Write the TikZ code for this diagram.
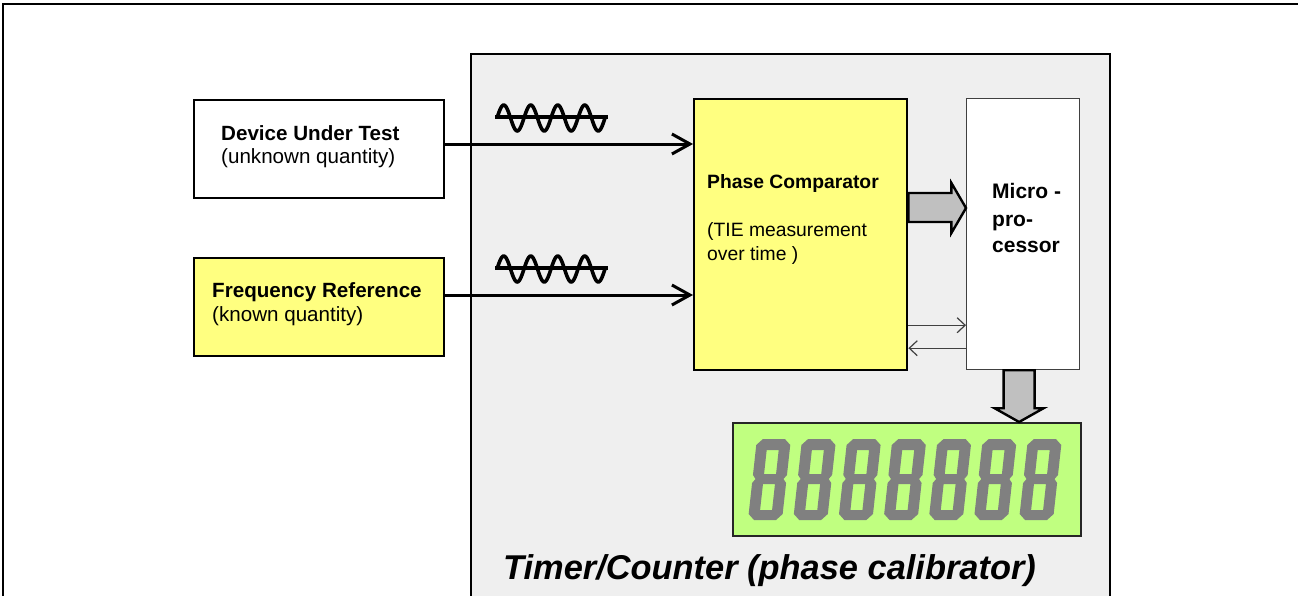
\documentclass[tikz,border=0pt]{standalone}
\usepackage{fontspec}
\setmainfont{Liberation Sans}
\usetikzlibrary{arrows.meta,calc}

\definecolor{panelgray}{HTML}{EFEFEF}
\definecolor{compyellow}{HTML}{FFFF80}
\definecolor{lcdgreen}{HTML}{C0FF80}
\definecolor{blockgray}{HTML}{C0C0C0}
\definecolor{seggray}{HTML}{808080}
\definecolor{wiregray}{HTML}{404040}

\tikzset{
  blockbox/.style={draw=black, line width=2pt, inner sep=0pt, anchor=north west},
  label/.style={inner sep=0pt, anchor=base west},
  boxtext/.style={label, font=\fontsize{20.6}{24}\selectfont},
  boxtitle/.style={boxtext, font=\bfseries\fontsize{20.6}{24}\selectfont},
  pctext/.style={label, font=\fontsize{19.3}{24}\selectfont},
  pctitle/.style={label, font=\bfseries\fontsize{19.3}{24}\selectfont},
  mptext/.style={label, font=\bfseries\fontsize{21}{27}\selectfont},
  signal/.style={line width=3pt, -{Straight Barb[length=18pt,width=20pt,line width=3pt]}},
  ctrl/.style={draw=wiregray, line width=1.2pt, -{Straight Barb[length=8pt,width=15pt,line width=1.2pt]}},
  blockarrow/.style={draw=black, fill=blockgray, line width=2.4pt, line join=miter},
  wave/.style={line width=3.6pt, line join=round},
}

\newcommand{\segdigit}{%
  \fill[seggray, even odd rule]
    (6,0) -- (28,0) -- (34,6) -- (34,37) -- (31,41) -- (34,45) -- (34,75)
    -- (28,81) -- (6,81) -- (0,75) -- (0,45) -- (3,41) -- (0,37) -- (0,6) -- cycle
    (11,10) rectangle (23,36)
    (11,46) rectangle (23,70);}

\newcommand{\sinewave}[1]{%
  \draw[wave] (495,#1-1) -- (608,#1-1);
  \draw[wave] plot[domain=0:8*pi, samples=120, smooth] ({497+\x/(8*pi)*108}, {#1-13*sin(\x r)});}

\begin{document}
\begin{tikzpicture}[x=1pt, y=-1pt]
\useasboundingbox (0,0) rectangle (1298,595);

% outer frame
\draw[line width=2.6pt] (3,600) -- (3,4) -- (1302,4);

% instrument housing
\node[blockbox, fill=panelgray, line width=2.4pt, minimum width=639pt, minimum height=560pt] (tc) at (470,53) {};

% external sources
\node[blockbox, fill=white, minimum width=250pt, minimum height=98pt] (dut) at (193,99) {};
\node[blockbox, fill=compyellow, minimum width=250pt, minimum height=98pt] (fr) at (193,257) {};
\node[boxtitle] (dutname) at (221,140) {Device Under Test};
\node[boxtext] (dutnote) at (221,163) {(unknown quantity)};
\node[boxtitle] (frname) at (212,297) {Frequency Reference};
\node[boxtext] (frnote) at (212,321) {(known quantity)};

% internal blocks
\node[blockbox, fill=compyellow, line width=2.4pt, minimum width=213pt, minimum height=271pt] (pc) at (693,98) {};
\node[blockbox, fill=white, draw=wiregray, line width=1.2pt, minimum width=113pt, minimum height=271pt] (mp) at (966,98) {};
\node[blockbox, fill=lcdgreen, draw=black!85, line width=2.4pt, minimum width=348pt, minimum height=113pt] (lcd) at (732,422) {};

\node[pctitle] (pcname) at (707,188) {Phase Comparator};
\node[pctext] (pcnote1) at (707,236) {(TIE measurement};
\node[pctext] (pcnote2) at (707,260) {over time )};

\node[mptext] (mp1) at (992,198) {Micro -};
\node[mptext] (mp2) at (992,226) {pro-};
\node[mptext] (mp3) at (992,252) {cessor};

\node[label, font=\bfseries\itshape\fontsize{34.4}{40}\selectfont] (tcname) at (503,579) {Timer/Counter (phase calibrator)};

% input signals
\coordinate (s1) at ($(dut.east)+(0,-5)$);
\coordinate (s2) at ($(fr.east)+(0,-12)$);
\draw[signal] (s1) -- (s1 -| pc.west);
\draw[signal] (s2) -- (s2 -| pc.west);
\sinewave{118}
\sinewave{269}

% data path to the processor
\coordinate (ba) at ($(pc.north east)+(0,110)$);
\draw[blockarrow] ($(ba)+(0,-15)$) -- ($(ba)+(43,-15)$) -- ($(ba)+(43,-25)$)
  -- (ba -| mp.west) -- ($(ba)+(43,25)$) -- ($(ba)+(43,14)$) -- ($(ba)+(0,14)$) -- cycle;

% control lines
\coordinate (c1) at ($(pc.east)+(0,90.5)$);
\coordinate (c2) at ($(pc.east)+(0,113.5)$);
\draw[ctrl] (c1) -- (c1 -| mp.west);
\draw[ctrl] (c2 -| mp.west) -- (c2);

% processor to display
\coordinate (bd) at ($(mp.south)+(-4,0)$);
\draw[blockarrow] ($(bd)+(-15.5,0)$) -- ($(bd)+(-15.5,38)$) -- ($(bd)+(-24.5,38)$)
  -- (bd |- lcd.north) -- ($(bd)+(24.5,38)$) -- ($(bd)+(15.5,38)$) -- ($(bd)+(15.5,0)$) -- cycle;

% seven-segment readout
\foreach \i in {0,...,6}{
  \begin{scope}[shift={(748+45.17*\i,520)}, x=1pt, y=1pt, xslant=0.11]
    \segdigit
  \end{scope}
}
\end{tikzpicture}
\end{document}
